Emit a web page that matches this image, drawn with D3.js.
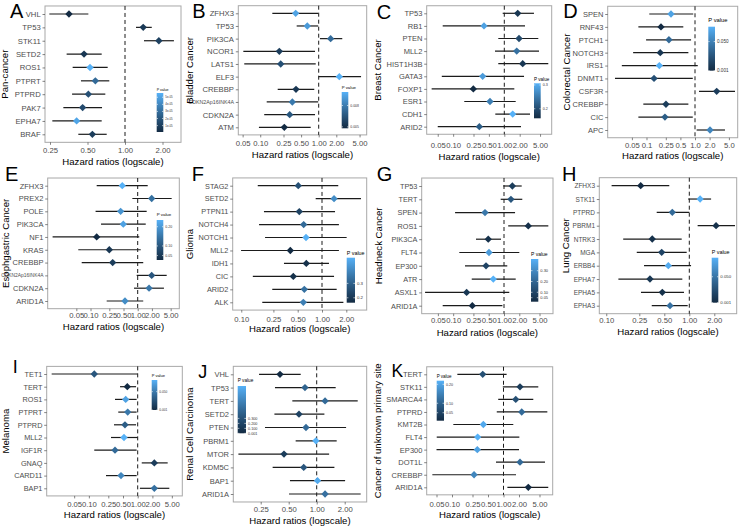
<!DOCTYPE html>
<html><head><meta charset="utf-8">
<script src="https://cdn.jsdelivr.net/npm/d3@7"></script>
<style>body{margin:0;background:#fff}svg{display:block;font-family:"Liberation Sans",Arial,Helvetica,sans-serif}</style>
</head><body><svg id="c" width="742" height="526"></svg>
<script>
// ---------------- DATA ----------------
const A_genes = ["VHL","TP53","STK11","SETD2","ROS1","PTPRT","PTPRD","PAK7","EPHA7","BRAF"];
const A_hr = [0.355,1.40,1.87,0.469,0.524,0.578,0.508,0.457,0.409,0.547];
const A_lo = [0.247,1.225,1.42,0.34,0.38,0.443,0.376,0.32,0.261,0.422];
const A_hi = [0.508,1.64,2.47,0.65,0.726,0.748,0.695,0.654,0.65,0.713];
const A_p = [1e-6,7.6e-6,1.09e-5,6.5e-6,5.6e-5,2.85e-5,1.75e-5,1.5e-5,5.16e-5,9.3e-6];
const A_legend = ["5e-05","4e-05","3e-05","2e-05","1e-05"];

const B_genes = ["ZFHX3","TP53","PIK3CA","NCOR1","LATS1","ELF3","CREBBP","CDKN2Ap16INK4A","CDKN2A","ATM"];
const B_hr = [0.404,0.638,1.60,0.212,0.224,2.25,0.409,0.354,0.319,0.258];
const B_lo = [0.161,0.42,1.05,0.0514,0.0533,1.0,0.199,0.129,0.117,0.095];
const B_hi = [0.98,0.98,2.53,0.865,0.889,5.3,0.84,0.98,0.865,0.73];
const B_p = [0.0094,0.0091,0.0074,0.0056,0.0063,0.0099,0.0053,0.0079,0.0066,0.0048];
const B_legend = ["0.008","0.005"];

const C_genes = ["TP53","RB1","PTEN","MLL2","HIST1H3B","GATA3","FOXP1","ESR1","CDH1","ARID2"];
const C_hr = [1.83,0.401,1.94,1.75,2.29,0.378,0.248,0.525,1.46,0.325];
const C_lo = [0.93,0.0625,0.763,0.658,0.763,0.06,0.038,0.165,0.667,0.05];
const C_hi = [3.8,2.54,4.62,4.77,7.24,2.43,1.57,1.67,3.18,2.12];
const C_p = [0.175,0.292,0.197,0.241,0.175,0.285,0.16,0.256,0.307,0.219];
const C_legend = ["0.3","0.2"];

const D_genes = ["SPEN","RNF43","PTCH1","NOTCH3","IRS1","DNMT1","CSF3R","CREBBP","CIC","APC"];
const D_hr = [0.32,0.199,0.29,0.192,0.184,0.143,2.80,0.252,0.24,2.04];
const D_lo = [0.114,0.068,0.098,0.053,0.031,0.0224,1.21,0.086,0.068,1.08];
const D_hi = [0.92,0.574,0.83,0.73,1.14,0.90,6.68,0.73,0.90,4.15];
const D_p = [0.068,0.001,0.038,0.0084,0.075,0.023,0.012,0.012,0.031,0.053];
const D_legend = ["0.050","0.001"];

const E_genes = ["ZFHX3","PREX2","POLE","PIK3CA","NF1","KRAS","CREBBP","CDKN2Ap16INK4A","CDKN2A","ARID1A"];
const E_hr = [0.471,1.98,0.435,0.495,0.135,0.25,0.295,1.98,1.74,0.538];
const E_lo = [0.135,0.77,0.128,0.167,0.0157,0.055,0.065,0.95,0.835,0.22];
const E_hi = [1.63,5.25,1.55,1.48,1.08,1.16,1.31,4.12,3.6,1.31];
const E_p = [0.235,0.141,0.193,0.214,0.027,0.048,0.058,0.1,0.152,0.183];
const E_legend = ["0.20","0.10","0.05"];

const F_genes = ["STAG2","SETD2","PTPN11","NOTCH4","NOTCH1","MLL2","IDH1","CIC","ARID2","ALK"];
const F_hr = [0.508,1.41,0.523,0.593,0.634,0.405,0.639,0.441,0.604,0.587];
const F_lo = [0.16,0.835,0.191,0.166,0.197,0.0994,0.338,0.139,0.242,0.182];
const F_hi = [1.59,3.04,1.45,1.62,2.02,1.62,1.22,1.41,1.52,1.84];
const F_p = [0.26,0.40,0.228,0.322,0.478,0.166,0.182,0.182,0.338,0.369];
const F_legend = ["0.3","0.2"];

const G_genes = ["TP53","TERT","SPEN","ROS1","PIK3CA","FLT4","EP300","ATR","ASXL1","ARID1A"];
const G_hr = [1.46,1.37,0.423,3.0,0.49,0.507,0.443,0.616,0.184,0.238];
const G_lo = [0.97,0.86,0.109,1.21,0.281,0.132,0.171,0.232,0.028,0.0622];
const G_hi = [2.23,2.29,1.65,7.45,0.873,2.0,1.16,1.7,1.27,0.93];
const G_p = [0.072,0.151,0.25,0.033,0.033,0.349,0.092,0.408,0.053,0.013];
const G_legend = ["0.30","0.20","0.10","0.05"];

const H_genes = ["ZFHX3","STK11","PTPRD","PBRM1","NTRK3","MGA","ERBB4","EPHA7","EPHA5","EPHA3"];
const H_hr = [0.26,1.35,0.624,2.1,0.358,0.465,0.559,0.336,0.473,0.586];
const H_lo = [0.116,0.97,0.405,1.26,0.16,0.233,0.285,0.14,0.262,0.353];
const H_hi = [0.574,1.83,1.0,3.55,0.81,0.93,1.05,0.824,0.863,0.956];
const H_p = [0.001,0.086,0.0435,0.0053,0.0053,0.018,0.082,0.0095,0.005,0.048];
const H_legend = ["0.050","0.001"];

const I_genes = ["TET1","TERT","ROS1","PTPRT","PTPRD","MLL2","IGF1R","GNAQ","CARD11","BAP1"];
const I_hr = [0.129,0.612,0.568,0.624,0.549,0.524,0.343,2.19,0.455,2.19];
const I_lo = [0.0173,0.435,0.343,0.40,0.327,0.284,0.129,1.21,0.224,1.11];
const I_hi = [1.0,0.925,0.95,0.95,0.925,1.0,0.95,4.11,0.95,4.44];
const I_p = [0.029,0.001,0.073,0.049,0.033,0.081,0.041,0.013,0.057,0.045];
const I_legend = ["0.050","0.001"];

const J_genes = ["VHL","TP53","TERT","SETD2","PTEN","PBRM1","MTOR","KDM5C","BAP1","ARID1A"];
const J_hr = [0.403,0.748,1.23,0.645,0.767,0.98,0.445,0.725,1.02,1.23];
const J_lo = [0.24,0.356,0.547,0.351,0.278,0.594,0.144,0.336,0.516,0.504];
const J_hi = [0.673,1.6,2.76,1.21,2.07,1.64,1.36,1.55,2.02,2.97];
const J_p = [0.001,0.43,0.475,0.19,0.475,0.95,0.143,0.33,0.9,0.52];
const J_legend = ["0.300","0.200","0.100","0.001"];

const K_genes = ["TERT","STK11","SMARCA4","PTPRD","KMT2B","FLT4","EP300","DOT1L","CREBBP","ARID1A"];
const K_hr = [0.395,2.09,1.73,2.26,0.406,0.315,0.31,2.09,0.268,3.03];
const K_lo = [0.127,0.97,0.79,0.74,0.106,0.0505,0.05,0.715,0.0415,1.19];
const K_hi = [1.15,4.74,3.79,7.1,1.55,2.03,2.0,6.4,1.75,7.4];
const K_p = [0.071,0.04,0.071,0.114,0.208,0.219,0.198,0.114,0.156,0.008];
const K_legend = ["0.20","0.10","0.05"];

const ticksA = [0.25,0.5,1,2];
const ticksWide = [0.05,0.1,0.25,0.5,1,2,5];
const ticksFH = [0.1,0.25,0.5,1,2];
const ticksJ = [0.25,0.5,1,2];
const D_tickLabels = ["0.05","0.1","0.25","0.5","1.0","2.0","5.0"];

const yTitles = {A:"Pan-cancer",B:"Bladder Cancer",C:"Breast Cancer",D:"Colorectal Cancer",
  E:"Esophgastric Cancer",F:"Glioma",G:"Headneck Cancer",H:"Lung Cancer",
  I:"Melanoma",J:"Renal Cell Carcinoma",K:"Cancer of unknown primary site"};
const xTitle = "Hazard ratios (logscale)";
const legendTitle = "P value";

// ---------------- LAYOUT ----------------
const layout = [
 {id:"A",d:[A_genes,A_hr,A_lo,A_hi,A_p,A_legend],ticks:ticksA,x0:45,x1:181,c:125,k:37.5,r0:14,r1:134.3,tickY:150,titleY:162,ytx:5,let:[10,18.3,20],lfs:7.7,
  lg:{x:156.7,w:6.6,t:89.3,b0:93,b1:132,fs:3.6}},
 {id:"B",d:[B_genes,B_hr,B_lo,B_hi,B_p,B_legend],ticks:ticksWide,x0:238.3,x1:366.7,c:318.7,k:17.6,r0:13.3,r1:127.3,tickY:143.3,titleY:155,ytx:190,let:[192.3,18.3,20],lfs:7.7,
  lg:{x:341.7,w:6.6,t:87,b0:92,b1:128.3,fs:4.3}},
 {id:"C",d:[C_genes,C_hr,C_lo,C_hi,C_p,C_legend],ticks:ticksWide,x0:426.7,x1:551.7,c:504.3,k:15.4,r0:13.3,r1:126.7,tickY:145.7,titleY:157,ytx:378,let:[376.7,19.3,20],lfs:7.5,
  lg:{x:534,w:6.7,t:79.3,b0:83.3,b1:118.3,fs:4.6}},
 {id:"D",d:[D_genes,D_hr,D_lo,D_hi,D_p,D_legend],ticks:ticksWide,tl:D_tickLabels,x0:607.7,x1:737.7,c:695,k:14.6,r0:14,r1:130,tickY:145.7,titleY:155.7,ytx:567,let:[563.3,18.3,20],lfs:7.5,
  lg:{x:708.3,w:6.7,t:20,b0:26.7,b1:70.7,fs:5.8}},
 {id:"E",d:[E_genes,E_hr,E_lo,E_hi,E_p,E_legend],ticks:ticksWide,x0:47.7,x1:179.3,c:137.7,k:14.2,r0:185.7,r1:301,tickY:315.7,titleY:326.7,ytx:6,let:[5,181,20],lfs:7.5,lfsLong:4.9,
  lg:{x:156.7,w:6.6,t:214.3,b0:220,b1:260,fs:4.4}},
 {id:"F",d:[F_genes,F_hr,F_lo,F_hi,F_p,F_legend],ticks:ticksFH,x0:232.7,x1:366.7,c:322,k:24.3,r0:185.7,r1:302.3,tickY:319,titleY:329,ytx:190,let:[191.7,181,20],lfs:7.3,
  lg:{x:346.7,w:8.3,t:252.7,b0:257.7,b1:302.7,fs:5.4}},
 {id:"G",d:[G_genes,G_hr,G_lo,G_hi,G_p,G_legend],ticks:ticksWide,x0:421.7,x1:553,c:504,k:15.3,r0:186,r1:305.7,tickY:320.7,titleY:332.3,ytx:379,let:[376.7,181,20],lfs:7.3,
  lg:{x:531,w:7.3,t:254.3,b0:259,b1:301.7,fs:5}},
 {id:"H",d:[H_genes,H_hr,H_lo,H_hi,H_p,H_legend],ticks:ticksFH,x0:599.3,x1:736.7,c:689.3,k:25,r0:185.7,r1:305.7,tickY:320.7,titleY:331.7,ytx:566,let:[562,181,20],lfs:6.5,
  lg:{x:711.7,w:6.6,t:251.7,b0:257.7,b1:302.7,fs:5.4}},
 {id:"I",d:[I_genes,I_hr,I_lo,I_hi,I_p,I_legend],ticks:ticksWide,x0:46.7,x1:182.3,c:137.7,k:14.7,r0:374,r1:488.3,tickY:504.3,titleY:514.3,ytx:6,let:[12.7,372.5,18],lfs:7.3,
  lg:{x:151.7,w:5.6,t:376,b0:380,b1:410,fs:4}},
 {id:"J",d:[J_genes,J_hr,J_lo,J_hi,J_p,J_legend],ticks:ticksJ,x0:233.3,x1:366.7,c:316.7,k:28,r0:374.3,r1:494,tickY:509.3,titleY:520.7,ytx:190,let:[198.3,378,18],lfs:7.5,
  lg:{x:237.7,w:8.3,t:380.7,b0:386,b1:433.3,fs:4.7}},
 {id:"K",d:[K_genes,K_hr,K_lo,K_hi,K_p,K_legend],ticks:ticksWide,x0:426.7,x1:552.7,c:503.5,k:15.5,r0:374.3,r1:487.3,tickY:504,titleY:515,ytx:378,let:[391.5,376.7,17.5],lfs:7.5,
  lg:{x:436.7,w:7.3,t:376,b0:380.7,b1:420.7,fs:4.5}}
];

// ---------------- DRAW ----------------
const svg = d3.select("#c");
const defs = svg.append("defs");
svg.append("rect").attr("width",742).attr("height",526).attr("fill","#fff");
const f2 = d3.format(".2f");

layout.forEach(drawPanel);

function drawPanel(L){
  const [genes,hr,lo,hi,p,legend] = L.d;
  const g = svg.append("g");
  const x = d3.scaleLog()
    .domain([Math.pow(2,(L.x0-L.c)/L.k), Math.pow(2,(L.x1-L.c)/L.k)])
    .range([L.x0,L.x1]);
  const y = d3.scalePoint().domain(genes).range([L.r0,L.r1]);
  const step = y.step();
  const py0 = L.r0-0.6*step, py1 = L.r1+0.6*step;
  const pe = d3.extent(p);
  const col = d3.scaleLinear().domain(pe).range(["#132B43","#56B1F7"]).interpolate(d3.interpolateLab);
  const rows = genes.map((n,i)=>({n,hr:hr[i],lo:lo[i],hi:hi[i],p:p[i]}));

  g.append("rect").attr("x",L.x0).attr("y",py0).attr("width",L.x1-L.x0).attr("height",py1-py0)
    .attr("fill","#fff").attr("stroke","#a8a8a8").attr("stroke-width",1);

  g.append("line").attr("x1",x(1)).attr("x2",x(1)).attr("y1",py0).attr("y2",py1)
    .attr("stroke","#000").attr("stroke-width",0.9).attr("stroke-dasharray","4,3");

  g.selectAll(".eb").data(rows).join("line")
    .attr("x1",d=>x(d.lo)).attr("x2",d=>x(d.hi))
    .attr("y1",d=>y(d.n)).attr("y2",d=>y(d.n))
    .attr("stroke","#1b1b1b").attr("stroke-width",1.2);

  g.selectAll(".pt").data(rows).join("path")
    .attr("d",d3.symbol(d3.symbolSquare,27))
    .attr("transform",d=>`translate(${x(d.hr)},${y(d.n)}) rotate(45)`)
    .attr("fill",d=>col(d.p));

  // y axis
  const ya = g.append("g").attr("transform",`translate(${L.x0},0)`)
    .call(d3.axisLeft(y).tickSize(2.5).tickPadding(1.8));
  ya.select(".domain").remove();
  ya.selectAll("line").attr("stroke","#333").attr("stroke-width",0.6);
  ya.selectAll("text").attr("fill","#4d4d4d")
    .attr("font-size",d=>d.length>10?(L.lfsLong||5.3):L.lfs)
    .attr("font-family",null);

  // x axis
  const xa = g.append("g").attr("transform",`translate(0,${py1})`)
    .call(d3.axisBottom(x).tickValues(L.ticks)
      .tickFormat((v,i)=>L.tl?L.tl[i]:f2(v)).tickSize(2.5));
  xa.select(".domain").remove();
  xa.selectAll("line").attr("stroke","#333").attr("stroke-width",0.6);
  xa.selectAll("text").attr("fill","#4d4d4d").attr("font-size",7.7).attr("font-family",null)
    .attr("y",L.tickY-py1).attr("dy","0.35em");

  // titles
  g.append("text").attr("x",(L.x0+L.x1)/2).attr("y",L.titleY).attr("dy","0.35em")
    .attr("text-anchor","middle").attr("font-size",9.6).attr("fill","#000").text(xTitle);
  g.append("text").attr("transform",`translate(${L.ytx},${(py0+py1)/2}) rotate(-90)`)
    .attr("dy","0.35em").attr("text-anchor","middle").attr("font-size",9.6).attr("fill","#000")
    .text(yTitles[L.id]);
  g.append("text").attr("x",L.let[0]).attr("y",L.let[1]).attr("font-size",L.let[2])
    .attr("fill","#000").text(L.id);

  // legend
  const lg = L.lg;
  const gid = "grad"+L.id;
  const grad = defs.append("linearGradient").attr("id",gid)
    .attr("x1",0).attr("y1",1).attr("x2",0).attr("y2",0);
  d3.range(0,1.0001,0.1).forEach(t=>{
    grad.append("stop").attr("offset",t).attr("stop-color",col(pe[0]+t*(pe[1]-pe[0])));
  });
  g.append("text").attr("x",lg.x).attr("y",lg.t).attr("dy","0.35em")
    .attr("font-size",lg.fs).attr("fill","#000").text(legendTitle);
  g.append("rect").attr("x",lg.x).attr("y",lg.b0).attr("width",lg.w).attr("height",lg.b1-lg.b0)
    .attr("fill",`url(#${gid})`);
  const ly = d3.scaleLinear().domain(pe).range([lg.b1,lg.b0]);
  legend.forEach(s=>{
    const v = +s, yy = ly(v);
    g.append("line").attr("x1",lg.x).attr("x2",lg.x+lg.w*0.2).attr("y1",yy).attr("y2",yy)
      .attr("stroke","#fff").attr("stroke-width",0.6);
    g.append("line").attr("x1",lg.x+lg.w*0.8).attr("x2",lg.x+lg.w).attr("y1",yy).attr("y2",yy)
      .attr("stroke","#fff").attr("stroke-width",0.6);
    g.append("text").attr("x",lg.x+lg.w+2).attr("y",yy).attr("dy","0.35em")
      .attr("font-size",lg.fs*0.8).attr("fill","#333").text(s);
  });
}
</script>
</body></html>
